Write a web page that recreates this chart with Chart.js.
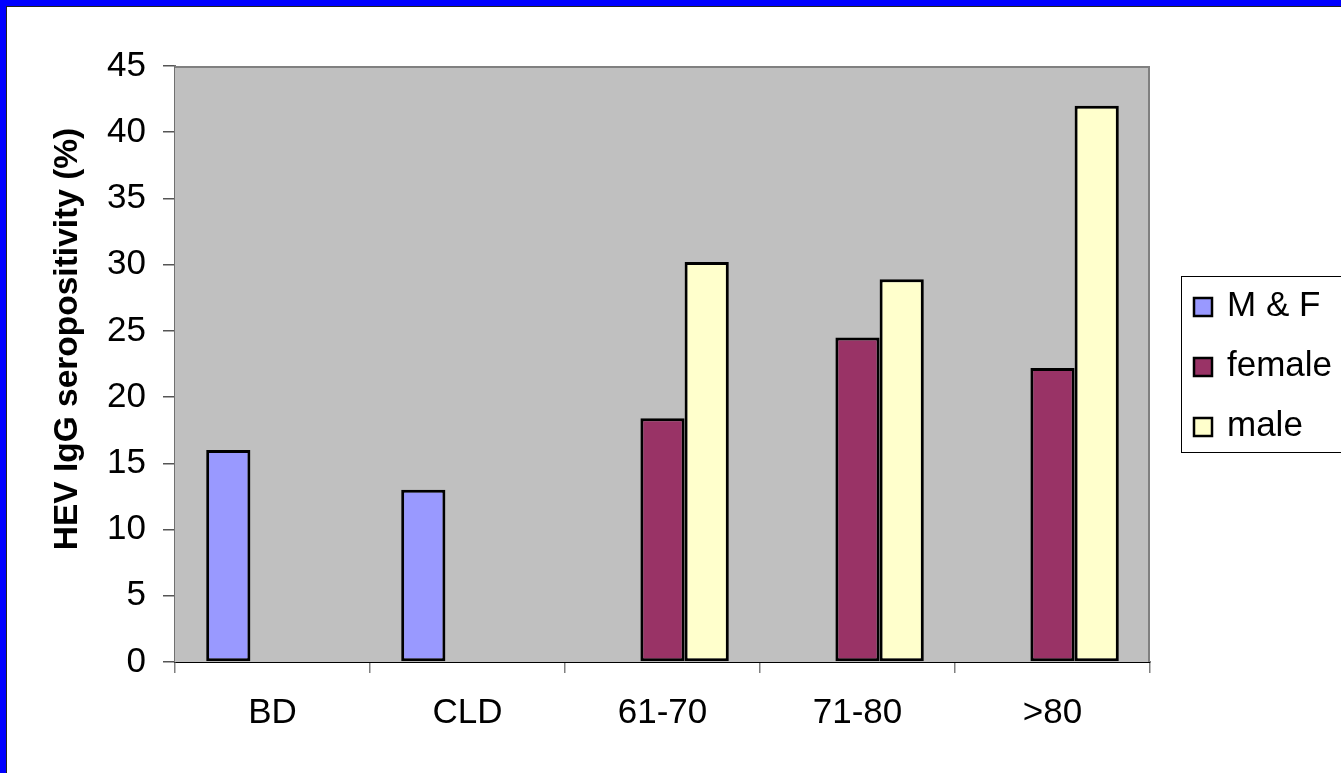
<!DOCTYPE html>
<html>
<head>
<meta charset="utf-8">
<script src="https://cdn.jsdelivr.net/npm/chart.js@4/dist/chart.umd.min.js"></script>
<style>
  html, body { margin: 0; padding: 0; }
  body { width: 1341px; height: 773px; background: #0000ff; overflow: hidden; position: relative; }
  #frame {
    position: absolute; left: 6px; top: 6px; width: 1335px; height: 767px;
    background: #fff; border-top: 1px solid #222; border-left: 1px solid #222;
  }
  #chart { display: block; }
</style>
</head>
<body>
<div id="frame">
  <canvas id="chart" width="1334" height="766"></canvas>
</div>
<script>
/* global Chart */

// chart data
const categories = ['BD', 'CLD', '61-70', '71-80', '>80'];
const seriesNames = ['M & F', 'female', 'male'];
const mfValues = [16, 13, null, null, null];
const femaleValues = [null, null, 18.4, 24.5, 22.2];
const maleValues = [null, null, 30.2, 28.9, 42];
const yTicks = [0, 5, 10, 15, 20, 25, 30, 35, 40, 45];
const yTitle = 'HEV IgG seropositivity (%)';

const colors = ['#9999ff', '#993366', '#ffffcc'];
const FONT = '"Liberation Sans", Arial, sans-serif';

// gray plot area behind the bars
const plotBackground = {
  id: 'plotBackground',
  beforeDatasetsDraw(chart) {
    const { ctx, chartArea: a } = chart;
    ctx.save();
    ctx.fillStyle = '#c0c0c0';
    ctx.fillRect(a.left, a.top, a.right - a.left, a.bottom - a.top);
    ctx.strokeStyle = '#808080';
    ctx.lineWidth = 2;
    ctx.beginPath();
    ctx.moveTo(a.left, a.top + 1);
    ctx.lineTo(a.right - 1, a.top + 1);
    ctx.lineTo(a.right - 1, a.bottom);
    ctx.stroke();
    ctx.restore();
  }
};

// rotated y title, sits a little above the plot centre as in the original
const yTitlePlugin = {
  id: 'yTitlePlugin',
  afterDraw(chart) {
    const { ctx } = chart;
    ctx.save();
    ctx.translate(61, 332);
    ctx.rotate(-Math.PI / 2);
    ctx.font = `bold 33.5px ${FONT}`;
    ctx.fillStyle = '#000';
    ctx.textAlign = 'center';
    ctx.textBaseline = 'middle';
    ctx.fillText(yTitle, 0, 0);
    ctx.restore();
  }
};

// boxed legend on the right
const boxedLegend = {
  id: 'boxedLegend',
  afterDraw(chart) {
    const { ctx } = chart;
    ctx.save();
    ctx.strokeStyle = '#000';
    ctx.lineWidth = 1;
    ctx.fillStyle = '#fff';
    ctx.fillRect(1174.5, 269.5, 170, 176);
    ctx.strokeRect(1174.5, 269.5, 170, 176);
    ctx.font = `35px ${FONT}`;
    ctx.textBaseline = 'middle';
    chart.data.datasets.forEach((ds, i) => {
      const cy = 299 + i * 60;
      ctx.fillStyle = ds.backgroundColor;
      ctx.fillRect(1187, cy - 8, 18, 18);
      ctx.lineWidth = 2.5;
      ctx.strokeRect(1187, cy - 8, 18, 18);
      ctx.fillStyle = '#000';
      ctx.fillText(ds.label, 1220, cy);
    });
    ctx.restore();
  }
};

const datasets = [mfValues, femaleValues, maleValues].map((vals, i) => ({
  label: seriesNames[i],
  data: vals,
  backgroundColor: colors[i],
  borderColor: '#000',
  borderWidth: 3,
  borderSkipped: false,
  categoryPercentage: 0.68,
  barPercentage: 1.0
}));

new Chart(document.getElementById('chart').getContext('2d'), {
  type: 'bar',
  data: { labels: categories, datasets },
  options: {
    responsive: false,
    animation: false,
    events: [],
    layout: { padding: { left: 0, top: 59, right: 191, bottom: 31 } },
    scales: {
      x: {
        grid: {
          offset: true,
          drawOnChartArea: false,
          drawTicks: true,
          tickLength: 11,
          color: '#808080',
          lineWidth: 1.5
        },
        border: { color: '#000', width: 2 },
        ticks: {
          color: '#000',
          padding: 19,
          maxRotation: 0,
          font: { family: FONT, size: 35 }
        },
        afterFit(scale) { scale.height = 80; }
      },
      y: {
        min: 0,
        max: 45,
        afterBuildTicks(scale) { scale.ticks = yTicks.map(v => ({ value: v })); },
        grid: {
          drawOnChartArea: false,
          drawTicks: true,
          tickLength: 12,
          color: '#555',
          lineWidth: 1.5
        },
        border: { color: '#707070', width: 2 },
        ticks: {
          color: '#000',
          padding: 17,
          font: { family: FONT, size: 35 }
        },
        afterFit(scale) { scale.width = 168; }
      }
    },
    plugins: {
      legend: { display: false },
      tooltip: { enabled: false }
    }
  },
  plugins: [plotBackground, yTitlePlugin, boxedLegend]
});
</script>
</body>
</html>
